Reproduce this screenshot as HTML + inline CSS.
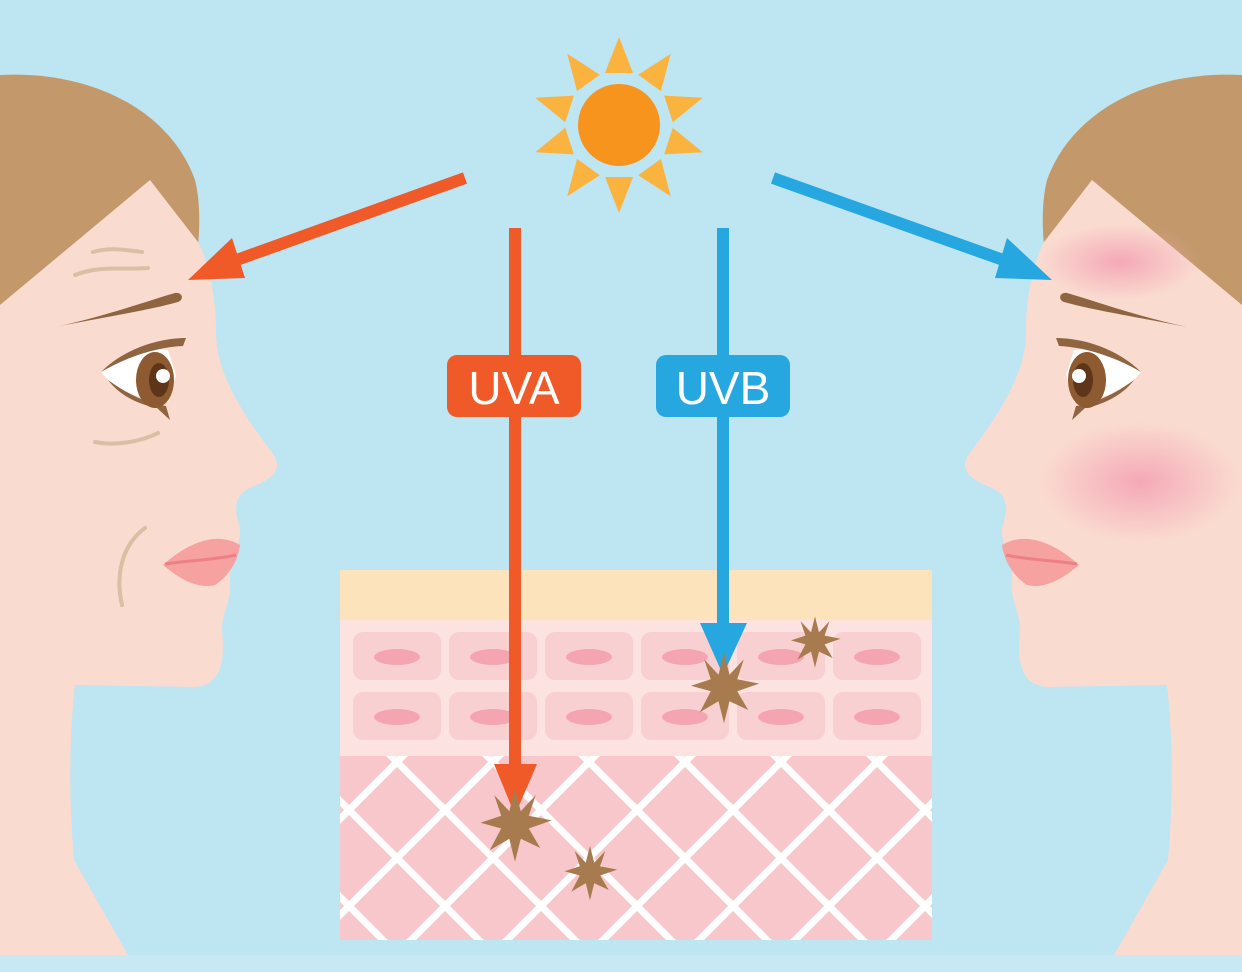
<!DOCTYPE html>
<html><head><meta charset="utf-8"><style>
html,body{margin:0;padding:0;background:#bde5f2;}
svg{display:block}
</style></head><body>
<svg width="1242" height="972" viewBox="0 0 1242 972" xmlns="http://www.w3.org/2000/svg">
<defs>
<pattern id="lat" patternUnits="userSpaceOnUse" x="349" y="714" width="96" height="96">
<rect width="96" height="96" fill="#f8c7cc"/>
<path d="M-10,-10 L106,106 M106,-10 L-10,106" stroke="#fff" stroke-width="7"/>
</pattern>
<radialGradient id="blush"><stop offset="0" stop-color="#f4a3b4" stop-opacity="0.9"/><stop offset="1" stop-color="#f4a3b4" stop-opacity="0"/></radialGradient>
<polygon id="st" points="0,-32 5,-12 18,-26 12,-8 32,-4 12,3 22,20 5,12 0,32 -5,12 -22,22 -12,3 -30,-2 -12,-8 -18,-26 -5,-12"/>
<g id="face">
<path d="M0,75 C90,70 170,110 195,180 C200,200 200,225 198,245 L0,310 Z" fill="#c3996b"/>
<path d="M150,180 L198,242 C210,265 216,300 216,330 C215,370 240,410 270,450 C285,468 275,478 250,488 C232,496 235,512 240,528 C242,545 228,560 230,580 C232,600 222,612 222,630 C225,660 222,685 195,687 L75,685 C70,730 68,790 74,860 L128,955 L0,955 L0,305 Z" fill="#fadbd0"/>
<path d="M55,327 C100,318 150,310 178,302 C184,300 183,292 175,293 C150,300 110,315 55,327 Z" fill="#8f6440"/>
<path d="M101,372 C120,352 150,348 168,350 L176,375 L168,402 C140,400 115,390 101,372 Z" fill="#fff"/>
<path d="M101,372 C125,348 160,338 186,338 L183,346 C160,347 130,355 101,372 Z" fill="#8f6440"/>
<path d="M108,380 C130,396 150,404 166,406 L170,420 L157,408 C140,405 120,396 108,380 Z" fill="#8f6440"/>
<ellipse cx="155" cy="380" rx="19" ry="28" fill="#8d5a31"/>
<ellipse cx="159" cy="380" rx="10" ry="17" fill="#5e3518"/>
<circle cx="163" cy="376" r="7" fill="#fff"/>
<path d="M163,565 C185,545 215,530 240,545 C238,560 230,575 215,585 C195,590 175,575 163,565 Z" fill="#f5a2a0"/>
<path d="M165,564 C190,560 215,560 236,555" stroke="#ef7f86" stroke-width="3" fill="none"/>
</g>
</defs>
<rect width="1242" height="972" fill="#bde5f2"/>
<rect y="955" width="1242" height="17" fill="#c8e9f4"/>

<use href="#face"/>
<use href="#face" transform="translate(1242,0) scale(-1,1)"/>

<g stroke="#d9bfa3" stroke-width="4" fill="none" stroke-linecap="round">
<path d="M93,252 C110,247 125,250 142,252"/>
<path d="M75,275 C100,265 125,270 148,268"/>
<path d="M95,442 C115,446 140,442 158,433"/>
<path d="M122,605 C115,575 122,545 145,528"/>
</g>
<ellipse cx="1120" cy="262" rx="80" ry="38" fill="url(#blush)"/>
<ellipse cx="1140" cy="482" rx="100" ry="60" fill="url(#blush)"/>

<g transform="translate(619,125)">
<g fill="#fbb33f">
<polygon points="-14,-52 14,-52 0,-88" transform="rotate(0)"/>
<polygon points="-14,-52 14,-52 0,-88" transform="rotate(36)"/>
<polygon points="-14,-52 14,-52 0,-88" transform="rotate(72)"/>
<polygon points="-14,-52 14,-52 0,-88" transform="rotate(108)"/>
<polygon points="-14,-52 14,-52 0,-88" transform="rotate(144)"/>
<polygon points="-14,-52 14,-52 0,-88" transform="rotate(180)"/>
<polygon points="-14,-52 14,-52 0,-88" transform="rotate(216)"/>
<polygon points="-14,-52 14,-52 0,-88" transform="rotate(252)"/>
<polygon points="-14,-52 14,-52 0,-88" transform="rotate(288)"/>
<polygon points="-14,-52 14,-52 0,-88" transform="rotate(324)"/>
</g>
<circle r="41" fill="#f7941d"/>
</g>

<rect x="340" y="570" width="592" height="52" fill="#fde3bb"/>
<rect x="340" y="620" width="592" height="136" fill="#fce2e0"/>
<g fill="#f9d0d2">
<rect x="353" y="632" width="88" height="48" rx="10"/><rect x="449" y="632" width="88" height="48" rx="10"/><rect x="545" y="632" width="88" height="48" rx="10"/><rect x="641" y="632" width="88" height="48" rx="10"/><rect x="737" y="632" width="88" height="48" rx="10"/><rect x="833" y="632" width="88" height="48" rx="10"/>
<rect x="353" y="692" width="88" height="48" rx="10"/><rect x="449" y="692" width="88" height="48" rx="10"/><rect x="545" y="692" width="88" height="48" rx="10"/><rect x="641" y="692" width="88" height="48" rx="10"/><rect x="737" y="692" width="88" height="48" rx="10"/><rect x="833" y="692" width="88" height="48" rx="10"/>
</g>
<g fill="#f4a5b1">
<ellipse cx="397" cy="657" rx="23" ry="8"/><ellipse cx="493" cy="657" rx="23" ry="8"/><ellipse cx="589" cy="657" rx="23" ry="8"/><ellipse cx="685" cy="657" rx="23" ry="8"/><ellipse cx="781" cy="657" rx="23" ry="8"/><ellipse cx="877" cy="657" rx="23" ry="8"/>
<ellipse cx="397" cy="717" rx="23" ry="8"/><ellipse cx="493" cy="717" rx="23" ry="8"/><ellipse cx="589" cy="717" rx="23" ry="8"/><ellipse cx="685" cy="717" rx="23" ry="8"/><ellipse cx="781" cy="717" rx="23" ry="8"/><ellipse cx="877" cy="717" rx="23" ry="8"/>
</g>
<rect x="340" y="756" width="592" height="184" fill="url(#lat)"/>

<g fill="#f05a28">
<line x1="465" y1="178" x2="220" y2="266" stroke="#f05a28" stroke-width="12"/>
<polygon points="188,280 232,238 245,278"/>
<rect x="509" y="228" width="12" height="545"/>
<polygon points="494,764 537,764 515,815"/>
<rect x="447" y="355" width="134" height="62" rx="10"/>
</g>
<g fill="#27a7df">
<line x1="773" y1="178" x2="1020" y2="266" stroke="#27a7df" stroke-width="12"/>
<polygon points="1052,280 1007,238 995,278"/>
<rect x="717" y="228" width="12" height="400"/>
<polygon points="700,623 747,623 723,675"/>
<rect x="656" y="355" width="134" height="62" rx="10"/>
</g>
<text x="514" y="404" fill="#fff" font-family="Liberation Sans, sans-serif" font-size="46" text-anchor="middle">UVA</text>
<text x="723" y="404" fill="#fff" font-family="Liberation Sans, sans-serif" font-size="46" text-anchor="middle">UVB</text>

<g fill="#a87b4f">
<use href="#st" transform="translate(515,825) scale(1.15)"/>
<use href="#st" transform="translate(590,873) scale(0.85)"/>
<use href="#st" transform="translate(724,688) scale(1.1)"/>
<use href="#st" transform="translate(815,642) scale(0.8)"/>
</g>
</svg>
</body></html>
